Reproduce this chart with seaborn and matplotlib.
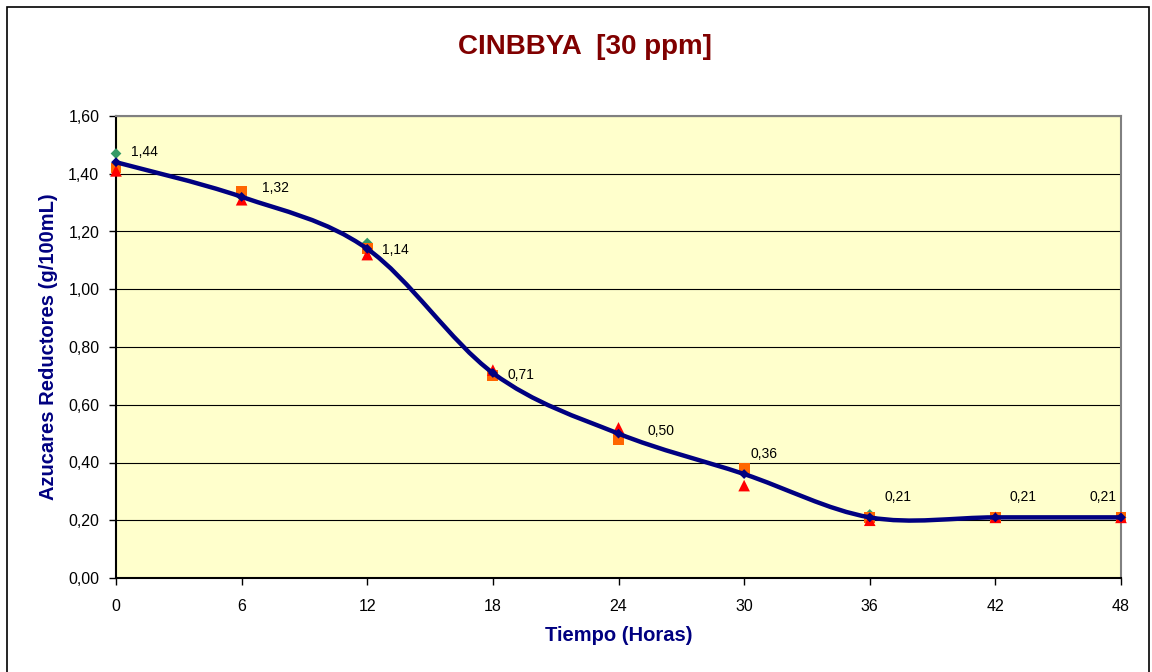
import numpy as np
import pandas as pd
import matplotlib
matplotlib.use("Agg")
import matplotlib.pyplot as plt
from matplotlib.path import Path
from matplotlib.patches import PathPatch, Rectangle
from matplotlib.ticker import FuncFormatter, MultipleLocator
import seaborn as sns

# ---- data ----
tiempo = [0, 6, 12, 18, 24, 30, 36, 42, 48]
rep1 = [1.47, 1.32, 1.16, 0.71, 0.50, 0.38, 0.22, 0.21, 0.21]   # green diamonds
rep2 = [1.42, 1.34, 1.14, 0.70, 0.48, 0.38, 0.21, 0.21, 0.21]   # orange squares
rep3 = [1.41, 1.31, 1.12, 0.72, 0.52, 0.32, 0.20, 0.21, 0.21]   # red triangles
promedio = [1.44, 1.32, 1.14, 0.71, 0.50, 0.36, 0.21, 0.21, 0.21]
etiquetas = ["1,44", "1,32", "1,14", "0,71", "0,50", "0,36", "0,21", "0,21", "0,21"]
titulo = "CINBBYA  [30 ppm]"
xlabel = "Tiempo (Horas)"
ylabel = "Azucares Reductores (g/100mL)"

# label offsets in pixels (dx, dy) - layout only
label_offsets = [(15, 10), (20, 9), (15, -1), (15, -2), (29, 3), (6, 20), (15, 20), (14, 20), (-31, 20)]

sns.set_theme(style="white")
plt.rcParams["font.family"] = ["Liberation Sans", "DejaVu Sans"]

fig = plt.figure(figsize=(11.52, 6.72), dpi=100)
ax = fig.add_axes([116/1152, 1-578/672, (1121-116)/1152, (578-116)/672])
ax.set_facecolor("#FFFFCC")

df = pd.DataFrame({"t": tiempo, "r1": rep1, "r2": rep2, "r3": rep3, "m": promedio})

sns.scatterplot(data=df, x="t", y="r1", marker="D", s=30, color="#339966",
                edgecolor="none", ax=ax, zorder=3, clip_on=False)
sns.scatterplot(data=df, x="t", y="r2", marker="s", s=60, color="#FF6600",
                edgecolor="none", ax=ax, zorder=4, clip_on=False)
sns.scatterplot(data=df, x="t", y="r3", marker="^", s=70, color="#FF0000",
                edgecolor="none", ax=ax, zorder=5, clip_on=False)

# smoothed mean line (Catmull-Rom as cubic Bezier)
x = np.array(tiempo, dtype=float)
y = np.array(promedio, dtype=float)
n = len(x)
verts = [(x[0], y[0])]
codes = [Path.MOVETO]
for i in range(n - 1):
    p0 = (x[i-1], y[i-1]) if i > 0 else (x[i], y[i])
    p1 = (x[i], y[i])
    p2 = (x[i+1], y[i+1])
    p3 = (x[i+2], y[i+2]) if i + 2 < n else (x[i+1], y[i+1])
    c1 = (p1[0] + (p2[0]-p0[0])/6, p1[1] + (p2[1]-p0[1])/6)
    c2 = (p2[0] - (p3[0]-p1[0])/6, p2[1] - (p3[1]-p1[1])/6)
    verts += [c1, c2, p2]
    codes += [Path.CURVE4]*3
ax.add_patch(PathPatch(Path(verts, codes), facecolor="none", edgecolor="#000080",
                       lw=3.2, zorder=6, clip_on=False, capstyle="round", joinstyle="round"))
sns.scatterplot(data=df, x="t", y="m", marker="D", s=25, color="#000080",
                edgecolor="none", ax=ax, zorder=7, clip_on=False)

for xi, yi, lab, (dx, dy) in zip(tiempo, promedio, etiquetas, label_offsets):
    ax.annotate(lab, (xi, yi), xytext=(dx, dy), textcoords="offset pixels",
                ha="left", va="center", fontsize=10, color="black", zorder=8)

ax.set_xlim(0, 48)
ax.set_ylim(0, 1.6)
ax.xaxis.set_major_locator(MultipleLocator(6))
ax.yaxis.set_major_locator(MultipleLocator(0.2))
ax.yaxis.set_major_formatter(FuncFormatter(lambda v, p: f"{v:.2f}".replace(".", ",")))
ax.grid(axis="y", color="black", lw=0.8)
ax.grid(axis="x", visible=False)
ax.set_axisbelow(True)
for s in ["top", "right"]:
    ax.spines[s].set_color("#808080")
    ax.spines[s].set_linewidth(1.5)
for s in ["left", "bottom"]:
    ax.spines[s].set_color("black")
    ax.spines[s].set_linewidth(1.5)
ax.tick_params(axis="both", direction="out", length=5, width=1, color="black",
               labelsize=11.5, labelcolor="black", bottom=True, left=True)
ax.tick_params(axis="y", pad=7)
ax.tick_params(axis="x", pad=10)

ax.set_xlabel(xlabel, fontsize=14.5, fontweight="bold", color="#000080", labelpad=9)
ax.set_ylabel(ylabel, fontsize=14.5, fontweight="bold", color="#000080", labelpad=7)

fig.text(585/1152, 1-47/672, titulo, ha="center", va="center", fontsize=20,
         fontweight="bold", color="#800000")

fig.patches.append(Rectangle((7/1152, -0.05), (1149-7)/1152, 1.05-7/672,
                             transform=fig.transFigure, fill=False, edgecolor="black",
                             lw=1.2, zorder=0))

fig.savefig("out.png", dpi=100)
